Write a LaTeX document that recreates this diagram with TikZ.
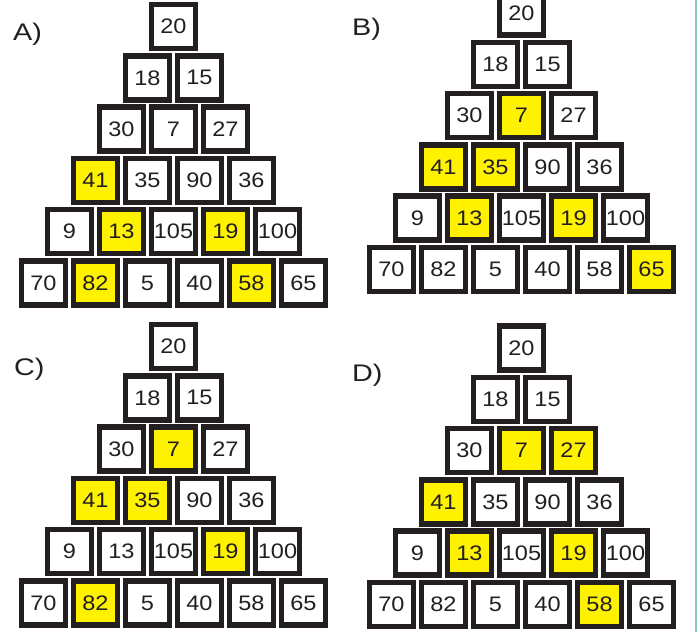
\documentclass[tikz,border=0pt]{standalone}
\usepackage{graphicx}
\usepackage{fontspec}
\setmainfont{Liberation Sans}
\definecolor{ink}{HTML}{231F20}
\definecolor{hl}{HTML}{FFF200}
\definecolor{tealline}{HTML}{7FCDC3}
\tikzset{
  cell/.style={draw=ink, line width=5.5pt, minimum width=44pt, minimum height=44pt,
    inner sep=0pt, text=ink, font=\fontsize{21}{23}\selectfont},
  lbl/.style={anchor=base west, inner sep=0pt, text=ink, font=\fontsize{24}{26}\selectfont}
}
\newcommand\mkhl[3]{\expandafter\def\csname hl@#1@#2@#3\endcsname{}}
\newcommand\pyramid[3]{%
  \foreach \vals [count=\rr from 0] in {{20},{18,15},{30,7,27},{41,35,90,36},{9,13,105,19,100},{70,82,5,40,58,65}}{%
    \foreach \nn [count=\ii from 0] in \vals {%
      \ifcsname hl@#1@\rr @\ii\endcsname\def\cf{hl}\else\def\cf{white}\fi
      \node[cell, fill=\cf] (#1-\rr-\ii) at ({#2+(\ii-\rr/2)*52}, {#3+\rr*51.3}) {\scalebox{1.12}[1]{\nn}};
    }%
  }%
}
% highlighted cells: pyramid, row, index
\mkhl{A}{3}{0}\mkhl{A}{4}{1}\mkhl{A}{4}{3}\mkhl{A}{5}{1}\mkhl{A}{5}{4}
\mkhl{B}{2}{1}\mkhl{B}{3}{0}\mkhl{B}{3}{1}\mkhl{B}{4}{1}\mkhl{B}{4}{3}\mkhl{B}{5}{5}
\mkhl{C}{2}{1}\mkhl{C}{3}{0}\mkhl{C}{3}{1}\mkhl{C}{4}{3}\mkhl{C}{5}{1}
\mkhl{D}{2}{1}\mkhl{D}{2}{2}\mkhl{D}{3}{0}\mkhl{D}{4}{1}\mkhl{D}{4}{3}\mkhl{D}{5}{4}
\begin{document}
\begin{tikzpicture}[x=1pt, y=-1pt]
  \useasboundingbox (0,0) rectangle (697,632);
  \fill[white] (0,0) rectangle (697,632);
  \fill[tealline] (695,0) rectangle (697,632);
  \pyramid{A}{173.5}{26.5}
  \pyramid{B}{521.5}{13}
  \pyramid{C}{173.5}{346.5}
  \pyramid{D}{521.5}{348}
  \node[lbl] (labA) at (13,40.5) {\scalebox{1.2}[1]{A)}};
  \node[lbl] (labB) at (352,35.5) {\scalebox{1.2}[1]{B)}};
  \node[lbl] (labC) at (14,375.5) {\scalebox{1.2}[1]{C)}};
  \node[lbl] (labD) at (352,381.5) {\scalebox{1.2}[1]{D)}};
\end{tikzpicture}
\end{document}
